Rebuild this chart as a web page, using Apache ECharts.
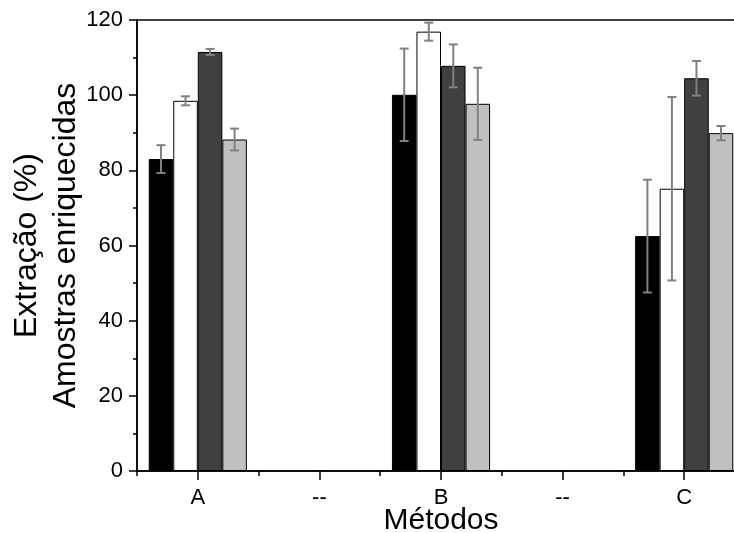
<!DOCTYPE html>
<html>
<head>
<meta charset="utf-8">
<script src="https://cdn.jsdelivr.net/npm/echarts@6/dist/echarts.min.js"></script>
<style>
  html, body { margin: 0; padding: 0; background: #fff; }
  #chart { width: 734px; height: 533px; }
</style>
</head>
<body>
<div id="chart"></div>
<script>
// Categories on the x axis ("--" slots are empty spacers)
const categories = ["A", "--", "B", "--", "C"];

// Bar heights (%) per series
const blackVals = [83.0, null, 100.1, null, 62.5];
const whiteVals = [98.5, null, 116.9, null, 75.1];
const darkVals  = [111.5, null, 107.8, null, 104.5];
const lightVals = [88.2, null, 97.7, null, 89.9];

// Error bar half-widths (±)
const blackErr = [3.7, null, 12.3, null, 15.0];
const whiteErr = [1.2, null, 2.4, null, 24.4];
const darkErr  = [0.8, null, 5.7, null, 4.6];
const lightErr = [2.9, null, 9.6, null, 1.9];

const FONT = "Liberation Sans";
const CAT_GAP = 0.193;   // barCategoryGap as a fraction

const seriesDefs = [
    { vals: blackVals, errs: blackErr, color: "#000000" },
    { vals: whiteVals, errs: whiteErr, color: "#ffffff" },
    { vals: darkVals,  errs: darkErr,  color: "#404040" },
    { vals: lightVals, errs: lightErr, color: "#c0c0c0" },
];

// flatten error bars into [catIndex, value, err, seriesIndex]
const errData = [];
seriesDefs.forEach((s, si) => {
    s.vals.forEach((v, ci) => {
        if (v != null && s.errs[ci] != null) errData.push([ci, v, s.errs[ci], si]);
    });
});

function renderError(params, api) {
    const ci = api.value(0), v = api.value(1), e = api.value(2), si = api.value(3);
    const hi = api.coord([ci, v + e]);
    const lo = api.coord([ci, v - e]);
    const band = api.size([1, 0])[0];
    const bw = band * (1 - CAT_GAP) / seriesDefs.length;
    const x = hi[0] + (si - 1.5) * bw;
    const cap = 4.5;
    const st = { stroke: "#808080", lineWidth: 2 };
    return {
        type: "group",
        children: [
            { type: "line", shape: { x1: x, y1: hi[1], x2: x, y2: lo[1] }, style: st },
            { type: "line", shape: { x1: x - cap, y1: hi[1], x2: x + cap, y2: hi[1] }, style: st },
            { type: "line", shape: { x1: x - cap, y1: lo[1], x2: x + cap, y2: lo[1] }, style: st },
        ],
    };
}

const chart = echarts.init(document.getElementById("chart"), null, { renderer: "canvas" });

const barSeries = seriesDefs.map(s => ({
    type: "bar",
    data: s.vals,
    barGap: "0%",
    barCategoryGap: (CAT_GAP * 100) + "%",
    itemStyle: { color: s.color, borderColor: "#000", borderWidth: 1 },
    z: 2,
}));

chart.setOption({
    animation: false,
    backgroundColor: "#fff",
    grid: {
        left: 137, top: 20, right: -11, bottom: 62,
        outerBoundsMode: "none",
        containLabel: false,
        show: true, borderColor: "#000", borderWidth: 1.5,
    },
    xAxis: [
        {
            type: "category",
            data: categories,
            name: "Métodos",
            nameLocation: "middle",
            nameGap: 35,
            nameMoveOverlap: false,
            nameTextStyle: { fontFamily: FONT, fontSize: 30, color: "#000" },
            axisLine: { show: true, lineStyle: { color: "#000", width: 1.5 } },
            axisTick: { show: true, alignWithLabel: true, inside: false, length: 9, lineStyle: { color: "#000", width: 1.5 } },
            axisLabel: { fontFamily: FONT, fontSize: 22, color: "#000", margin: 16 },
            splitLine: { show: false },
        },
        {
            // boundary (minor) ticks only
            type: "category",
            data: categories,
            position: "bottom",
            axisLine: { show: false },
            axisTick: { show: true, alignWithLabel: false, length: 5, lineStyle: { color: "#000", width: 1.5 } },
            axisLabel: { show: false },
            splitLine: { show: false },
        },
    ],
    yAxis: {
        type: "value",
        min: 0, max: 120, interval: 20,
        name: "Extração (%)\nAmostras enriquecidas",
        nameLocation: "middle",
        nameGap: 51,
        nameRotate: 90,
        nameMoveOverlap: false,
        nameTextStyle: { fontFamily: FONT, fontSize: 32, color: "#000", lineHeight: 39 },
        axisLine: { show: true, lineStyle: { color: "#000", width: 1.5 } },
        axisTick: { show: true, length: 8, lineStyle: { color: "#000", width: 1.5 } },
        minorTick: { show: true, splitNumber: 2, length: 4, lineStyle: { color: "#000", width: 1.5 } },
        axisLabel: { fontFamily: FONT, fontSize: 22, color: "#000", margin: 14 },
        splitLine: { show: false },
    },
    series: barSeries.concat([{
        type: "custom",
        renderItem: renderError,
        data: errData,
        encode: { x: 0, y: 1 },
        z: 5,
    }]),
});
</script>
</body>
</html>
